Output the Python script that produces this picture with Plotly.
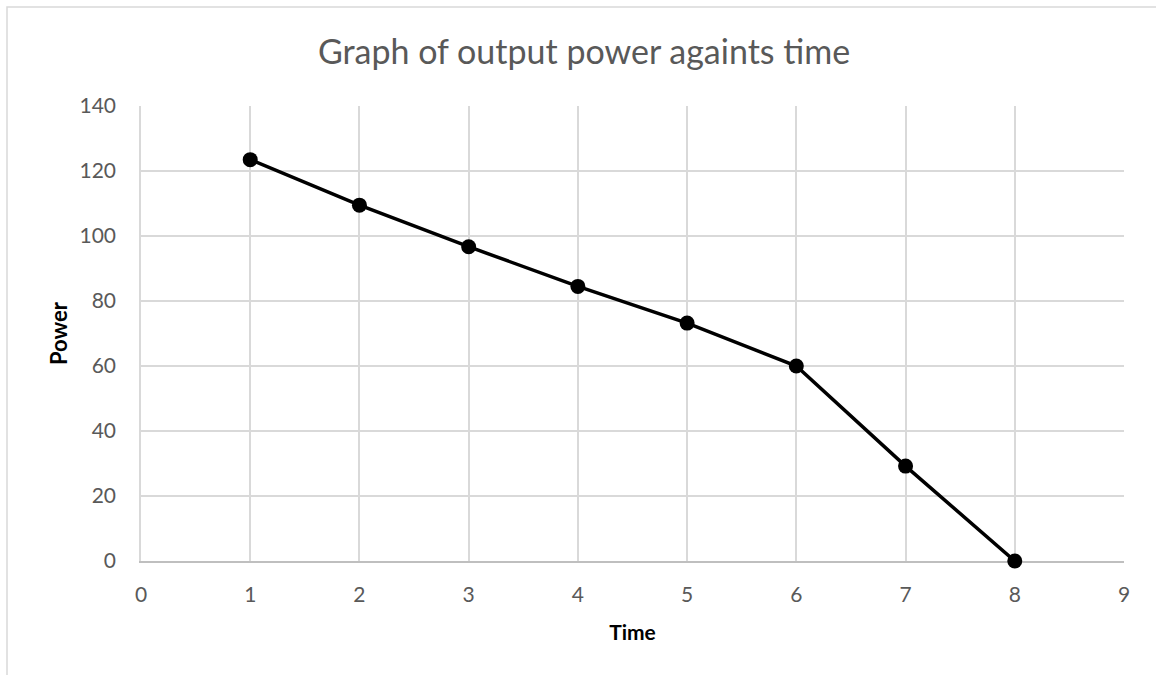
import plotly.graph_objects as go

time = [1, 2, 3, 4, 5, 6, 7, 8]
power = [123.5, 109.5, 96.7, 84.5, 73.2, 60.0, 29.2, 0.0]

x_ticks = list(range(0, 10))
y_ticks = list(range(0, 141, 20))

FONT = "Lato, 'Open Sans', sans-serif"

fig = go.Figure()
fig.add_trace(go.Scatter(
    x=time, y=power, mode="lines+markers",
    line=dict(color="black", width=3.5),
    marker=dict(color="black", size=15, symbol="circle",
                line=dict(width=0, color="black")),
    cliponaxis=False,
    showlegend=False,
))

W, H = 1156, 675
fig.update_layout(
    width=W, height=H,
    margin=dict(l=141, r=32, t=106, b=114),
    paper_bgcolor="white", plot_bgcolor="white",
    font=dict(family=FONT, color="#595959"),
    title=dict(
        text="Graph of output power againts time",
        x=584 / W, xref="container", xanchor="center",
        y=1 - 52 / H, yref="container", yanchor="middle",
        font=dict(size=34, color="#595959", family=FONT),
    ),
    xaxis=dict(
        range=[0, 9], tickvals=x_ticks, ticktext=[str(v) for v in x_ticks],
        showgrid=True, gridcolor="#d9d9d9", gridwidth=1.5,
        zeroline=False, showline=True, linecolor="#bfbfbf", linewidth=1.5,
        layer="below traces",
        ticks="", ticklabelstandoff=14, tickfont=dict(size=21, color="#595959"),
        title=dict(text="<b>Time</b>", font=dict(size=21, color="black"), standoff=20),
    ),
    yaxis=dict(
        range=[0, 140], tickvals=y_ticks, ticktext=[str(v) for v in y_ticks],
        showgrid=True, gridcolor="#d9d9d9", gridwidth=1.5,
        zeroline=False, showline=True, linecolor="#d9d9d9", linewidth=1.5,
        layer="below traces",
        ticks="", ticklabelstandoff=19, tickfont=dict(size=21, color="#595959"),
        title=dict(text="<b>Power</b>", font=dict(size=22, color="black"), standoff=6),
    ),
    shapes=[dict(
        type="rect", xref="paper", yref="paper",
        x0=(7 - 141) / (W - 141 - 32), x1=(1170 - 141) / (W - 141 - 32),
        y0=-(690 - 561) / (561 - 106), y1=(561 - 7) / (561 - 106),
        line=dict(color="#d9d9d9", width=1.5), fillcolor="rgba(0,0,0,0)",
        layer="below",
    )],
)

fig.write_html("out.html")
